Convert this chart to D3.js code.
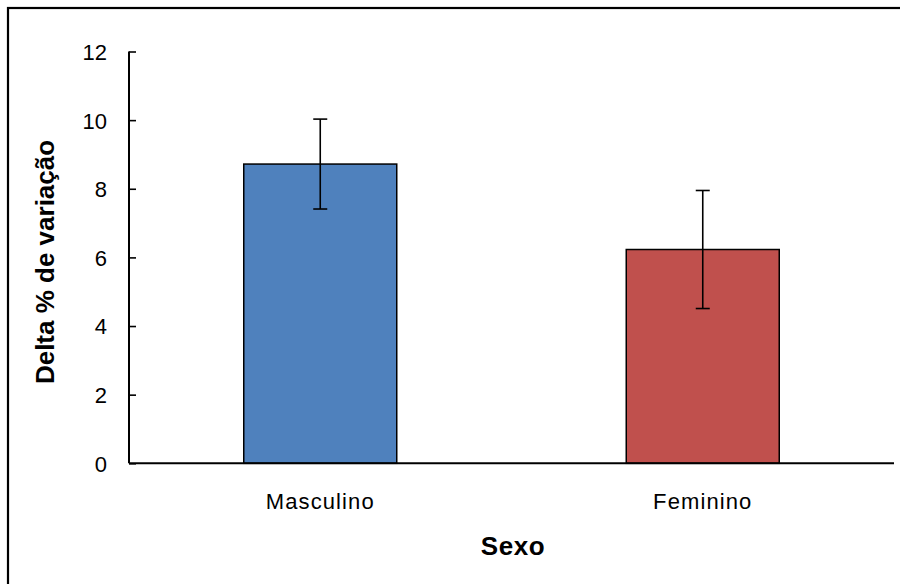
<!DOCTYPE html>
<html>
<head>
<meta charset="utf-8">
<script src="https://cdn.jsdelivr.net/npm/d3@7"></script>
<style>
  html, body { margin: 0; padding: 0; background: #fff; }
  svg { display: block; }
  text { font-family: "Liberation Sans", Arial, sans-serif; fill: #000; }
</style>
</head>
<body>
<svg id="chart" width="900" height="584"></svg>
<script>
const categories = ["Masculino", "Feminino"];
const values = [8.72, 6.23];
const errors = [1.31, 1.72];
const colors = ["#4F81BD", "#C0504D"];
const yTicks = [0, 2, 4, 6, 8, 10, 12];
const yTitle = "Delta % de variação";
const xTitle = "Sexo";

const svg = d3.select("#chart");

// outer chart border (extends past the right/bottom edge)
svg.append("rect")
  .attr("x", 8).attr("y", 8)
  .attr("width", 910).attr("height", 600)
  .attr("fill", "#fff")
  .attr("stroke", "#000")
  .attr("stroke-width", 2.2);

const x = d3.scaleBand()
  .domain(categories)
  .range([129, 894])
  .paddingInner(0.6)
  .paddingOuter(0.3);

const y = d3.scaleLinear()
  .domain([0, 12])
  .range([463.3, 51.5]);

const data = categories.map((c, i) => ({ c, v: values[i], e: errors[i], col: colors[i] }));

// bars
svg.append("g").selectAll("rect")
  .data(data)
  .join("rect")
  .attr("x", d => x(d.c))
  .attr("y", d => y(d.v))
  .attr("width", x.bandwidth())
  .attr("height", d => y(0) - y(d.v))
  .attr("fill", d => d.col)
  .attr("stroke", "#000")
  .attr("stroke-width", 1.5);

// error bars
const eg = svg.append("g").attr("stroke", "#000").attr("stroke-width", 1.6);
data.forEach(d => {
  const cx = x(d.c) + x.bandwidth() / 2;
  eg.append("line").attr("x1", cx).attr("x2", cx)
    .attr("y1", y(d.v + d.e)).attr("y2", y(d.v - d.e));
  [d.v + d.e, d.v - d.e].forEach(val => {
    eg.append("line").attr("x1", cx - 7).attr("x2", cx + 7)
      .attr("y1", y(val)).attr("y2", y(val));
  });
});

// y axis (ticks pointing inward)
const yAxis = d3.axisRight(y).tickValues(yTicks).tickSize(7).tickFormat(d3.format("d"));
const yg = svg.append("g").attr("transform", "translate(129,0)").call(yAxis);
yg.select(".domain").attr("stroke", "#000").attr("stroke-width", 2)
  .attr("d", `M0,${y(12)}V${y(0)}`);
yg.selectAll(".tick line").attr("stroke", "#000").attr("stroke-width", 1.6);
yg.selectAll(".tick text")
  .attr("x", -22).attr("dy", "0.36em")
  .attr("text-anchor", "end")
  .style("font-size", "22px")
  .style("font-family", "'Liberation Sans', Arial, sans-serif")
  .attr("fill", "#000");

// x axis
const xAxis = d3.axisBottom(x).tickSize(0);
const xg = svg.append("g").attr("transform", `translate(0,${y(0)})`).call(xAxis);
xg.select(".domain").attr("stroke", "#000").attr("stroke-width", 2)
  .attr("d", `M129,0H894`);
xg.selectAll(".tick text")
  .attr("y", 0).attr("dy", 0)
  .attr("transform", "translate(0,46)")
  .style("font-size", "22px")
  .style("letter-spacing", "1.1px")
  .style("font-family", "'Liberation Sans', Arial, sans-serif")
  .attr("fill", "#000");

// axis titles
svg.append("text")
  .attr("transform", "translate(53.5,262) rotate(-90)")
  .attr("text-anchor", "middle")
  .style("font-size", "26px")
  .style("font-weight", "bold")
  .text(yTitle);

svg.append("text")
  .attr("x", 513).attr("y", 555)
  .attr("text-anchor", "middle")
  .style("font-size", "26px")
  .style("font-weight", "bold")
  .style("letter-spacing", "0.6px")
  .text(xTitle);
</script>
</body>
</html>
